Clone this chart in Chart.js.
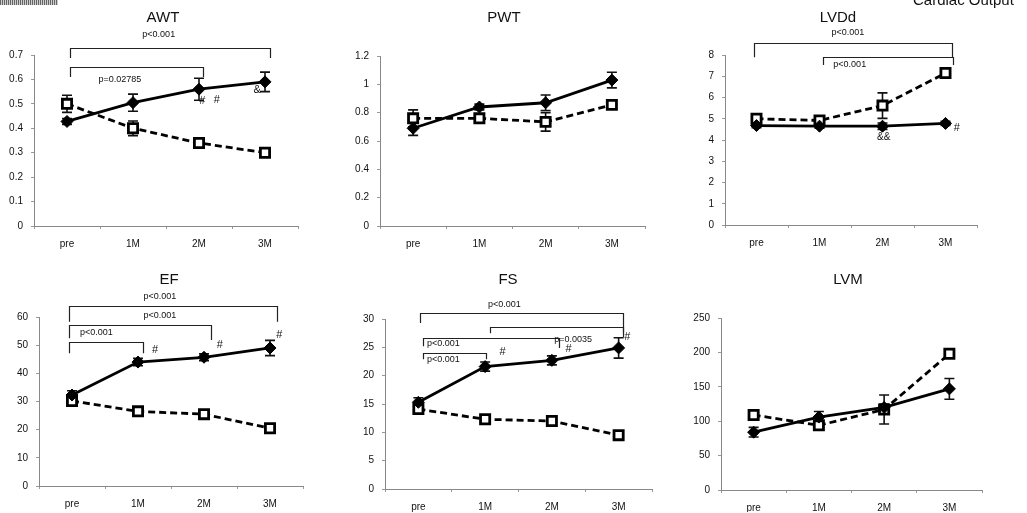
<!DOCTYPE html>
<html><head><meta charset="utf-8">
<script src="https://cdn.jsdelivr.net/npm/chart.js@4.4.1/dist/chart.umd.min.js"></script>
<style>
html,body{margin:0;padding:0;background:#fff;width:1027px;height:513px;overflow:hidden;position:relative;font-family:"Liberation Sans",Arial,sans-serif;}
canvas{position:absolute;}
.ttl{position:absolute;font-size:15px;color:#111;transform:translate(-50%,-50%);white-space:nowrap;line-height:1;}
#dith{position:absolute;left:0;top:0;width:58px;height:5px;background:repeating-linear-gradient(90deg,#666 0 1px,#ccc 1px 2px);}
#co{position:absolute;left:913px;top:-8px;font-size:15px;color:#111;white-space:nowrap;line-height:1;}
</style></head><body>
<div id="dith"></div>
<canvas id="c1"></canvas><canvas id="c2"></canvas><canvas id="c3"></canvas>
<canvas id="c4"></canvas><canvas id="c5"></canvas><canvas id="c6"></canvas>
<div class="ttl" style="left:163px;top:16px">AWT</div>
<div class="ttl" style="left:504px;top:16px">PWT</div>
<div class="ttl" style="left:838px;top:16px">LVDd</div>
<div class="ttl" style="left:169px;top:278px">EF</div>
<div class="ttl" style="left:508px;top:278px">FS</div>
<div class="ttl" style="left:848px;top:278px">LVM</div>
<div id="co">Cardiac Output</div>
<script>
// ---- data ----
const categories = ['pre', '1M', '2M', '3M'];

const awtSolid = [0.428, 0.505, 0.56, 0.59];
const awtSolidErr = [0.012, 0.035, 0.045, 0.04];
const awtDashed = [0.50, 0.40, 0.34, 0.30];
const awtDashedErr = [0.035, 0.03, 0.02, 0.012];
const awtTicks = [0, 0.1, 0.2, 0.3, 0.4, 0.5, 0.6, 0.7];

const pwtSolid = [0.69, 0.84, 0.87, 1.03];
const pwtSolidErr = [0.05, 0.02, 0.055, 0.055];
const pwtDashed = [0.76, 0.76, 0.735, 0.855];
const pwtDashedErr = [0.06, 0.03, 0.065, 0.02];
const pwtTicks = [0, 0.2, 0.4, 0.6, 0.8, 1, 1.2];

const lvddSolid = [4.68, 4.65, 4.65, 4.78];
const lvddSolidErr = [0.1, 0.1, 0.15, 0.1];
const lvddDashed = [5.0, 4.92, 5.62, 7.15];
const lvddDashedErr = [0.1, 0.1, 0.6, 0.15];
const lvddTicks = [0, 1, 2, 3, 4, 5, 6, 7, 8];

const efSolid = [32.3, 44, 45.7, 49];
const efSolidErr = [1.5, 1.3, 1.2, 2.7];
const efDashed = [30.2, 26.5, 25.5, 20.5];
const efDashedErr = [1, 0.8, 0.8, 0.8];
const efTicks = [0, 10, 20, 30, 40, 50, 60];

const fsSolid = [15.3, 21.6, 22.7, 24.9];
const fsSolidErr = [0.8, 0.8, 0.8, 1.8];
const fsDashed = [14.1, 12.3, 12.0, 9.5];
const fsDashedErr = [0.6, 0.4, 0.4, 0.5];
const fsTicks = [0, 5, 10, 15, 20, 25, 30];

const lvmSolid = [84, 106, 120, 147];
const lvmSolidErr = [7, 8, 5, 15];
const lvmDashed = [109, 94, 117, 198];
const lvmDashedErr = [4, 5, 21, 5];
const lvmTicks = [0, 50, 100, 150, 200, 250];

// significance brackets: [from category, to category, top value, left leg end, right leg end]
const awtBrackets = [[0.05, 3.08, 0.729, 0.688, 0.688], [0.05, 2.06, 0.651, 0.61, 0.61]];
const awtLabels = [['p<0.001', 1.39, 0.782, 'center', 9], ['p=0.02785', 0.80, 0.60, 'center', 9],
  ['#', 2.05, 0.51, 'center', 11], ['#', 2.27, 0.515, 'center', 11], ['&', 2.88, 0.557, 'center', 11]];
const lvddBrackets = [[-0.04, 3.10, 8.56, 7.9, 7.86], [1.05, 3.12, 7.9, 7.53, 7.53]];
const lvddLabels = [['p<0.001', 1.45, 9.04, 'center', 9], ['p<0.001', 1.48, 7.53, 'center', 9],
  ['&&', 2.02, 4.15, 'center', 10], ['#', 3.18, 4.55, 'center', 11]];
const efBrackets = [[-0.05, 3.1, 64, 58.3, 58.3], [-0.05, 2.11, 57.2, 52.5, 51.8], [-0.05, 1.08, 51, 47.1, 47.1]];
const efLabels = [['p<0.001', 1.33, 67.2, 'center', 9], ['p<0.001', 1.33, 60.4, 'center', 9], ['p<0.001', 0.37, 54.4, 'center', 9],
  ['#', 1.26, 48.3, 'center', 11], ['#', 2.24, 50, 'center', 11], ['#', 3.14, 53.6, 'center', 11]];
const fsBrackets = [[0.03, 3.06, 31.0, 29.3, 27.5], [1.08, 3.06, 28.65, 27.5, 26.8], [0.07, 2.10, 26.6, 25.2, 24.9], [0.07, 1.02, 23.95, 22.9, 22.9]];
const fsLabels = [['p<0.001', 1.29, 32.5, 'center', 9], ['p=0.0035', 2.32, 26.3, 'center', 9],
  ['p<0.001', 0.13, 25.6, 'left', 9], ['p<0.001', 0.13, 22.8, 'left', 9],
  ['#', 1.26, 24.2, 'center', 11], ['#', 2.25, 24.7, 'center', 11], ['#', 3.13, 26.8, 'center', 11]];

// ---- layout ----
const FONT = "'Liberation Sans', Arial, sans-serif";
const YW = 30, XH = 25;
const panels = [
  {id: 'c1', canvas: [0, 0, 340, 255], area: [34, 298, 55, 226], s: awtSolid, se: awtSolidErr, d: awtDashed, de: awtDashedErr, t: awtTicks, b: awtBrackets, l: awtLabels},
  {id: 'c2', canvas: [340, 0, 340, 255], area: [380, 645, 56, 226], s: pwtSolid, se: pwtSolidErr, d: pwtDashed, de: pwtDashedErr, t: pwtTicks, b: [], l: []},
  {id: 'c3', canvas: [680, 0, 347, 255], area: [725, 977, 55, 225], s: lvddSolid, se: lvddSolidErr, d: lvddDashed, de: lvddDashedErr, t: lvddTicks, b: lvddBrackets, l: lvddLabels},
  {id: 'c4', canvas: [0, 255, 340, 258], area: [39, 303, 317, 486], s: efSolid, se: efSolidErr, d: efDashed, de: efDashedErr, t: efTicks, b: efBrackets, l: efLabels},
  {id: 'c5', canvas: [340, 255, 340, 258], area: [385, 652, 319, 489], s: fsSolid, se: fsSolidErr, d: fsDashed, de: fsDashedErr, t: fsTicks, b: fsBrackets, l: fsLabels},
  {id: 'c6', canvas: [680, 255, 347, 258], area: [721, 982, 318, 490], s: lvmSolid, se: lvmSolidErr, d: lvmDashed, de: lvmDashedErr, t: lvmTicks, b: [], l: []}
];

function build(p) {
  const [cx, cy, cw, ch] = p.canvas;
  const [L, R, T, B] = p.area;
  const el = document.getElementById(p.id);
  el.width = cw; el.height = ch;
  el.style.left = cx + 'px'; el.style.top = cy + 'px';
  el.style.width = cw + 'px'; el.style.height = ch + 'px';
  const xh = Math.min(XH, cy + ch - B - 1);
  const pad = {left: L - cx - YW, right: cx + cw - R, top: T - cy, bottom: cy + ch - B - xh};
  const errs = [p.se, p.de];
  const errPlugin = {
    id: 'errbars',
    beforeDatasetsDraw(chart) {
      const ctx = chart.ctx, ys = chart.scales.y;
      ctx.save(); ctx.strokeStyle = '#111'; ctx.lineWidth = 1.6;
      chart.data.datasets.forEach((ds, di) => {
        const meta = chart.getDatasetMeta(di);
        meta.data.forEach((pt, i) => {
          const e = errs[di][i]; const v = ds.data[i];
          const yt = ys.getPixelForValue(v + e), yb = ys.getPixelForValue(v - e), x = pt.x;
          ctx.beginPath();
          ctx.moveTo(x, yt); ctx.lineTo(x, yb);
          ctx.moveTo(x - 5, yt); ctx.lineTo(x + 5, yt);
          ctx.moveTo(x - 5, yb); ctx.lineTo(x + 5, yb);
          ctx.stroke();
        });
      });
      ctx.restore();
    }
  };
  const annPlugin = {
    id: 'annot',
    afterDraw(chart) {
      const ctx = chart.ctx, xs = chart.scales.x, ys = chart.scales.y;
      const p0 = xs.getPixelForValue(0), p1 = xs.getPixelForValue(1);
      const px = i => p0 + (p1 - p0) * i;
      ctx.save();
      ctx.strokeStyle = '#222'; ctx.lineWidth = 1.2;
      p.b.forEach(([a, b, top, lb, rb]) => {
        const xa = Math.round(px(a)) + 0.5, xb = Math.round(px(b)) + 0.5, yt = Math.round(ys.getPixelForValue(top)) + 0.5;
        ctx.beginPath();
        ctx.moveTo(xa, ys.getPixelForValue(lb)); ctx.lineTo(xa, yt); ctx.lineTo(xb, yt); ctx.lineTo(xb, ys.getPixelForValue(rb));
        ctx.stroke();
      });
      ctx.fillStyle = '#111'; ctx.textBaseline = 'middle';
      p.l.forEach(([txt, i, v, al, sz]) => {
        ctx.font = sz + 'px ' + FONT; ctx.textAlign = al;
        ctx.fillText(txt, px(i), ys.getPixelForValue(v));
      });
      ctx.restore();
    }
  };
  new Chart(el, {
    type: 'line',
    data: {
      labels: categories,
      datasets: [
        {data: p.s, borderColor: '#000', borderWidth: 2.8, pointStyle: 'rectRot', pointRadius: 6, pointBackgroundColor: '#000', pointBorderColor: '#000', pointBorderWidth: 1, tension: 0, fill: false},
        {data: p.d, borderColor: '#000', borderWidth: 2.8, borderDash: [7, 4], pointStyle: 'rect', pointRadius: 6.5, pointBackgroundColor: '#fff', pointBorderColor: '#000', pointBorderWidth: 2.8, tension: 0, fill: false}
      ]
    },
    options: {
      responsive: false, animation: false, devicePixelRatio: 1,
      layout: {padding: pad},
      plugins: {legend: {display: false}, tooltip: {enabled: false}, title: {display: false}},
      scales: {
        x: {
          type: 'category', offset: true,
          grid: {display: true, drawOnChartArea: false, drawTicks: true, tickLength: 3, color: '#999', offset: true},
          border: {display: true, color: '#888', dash: [1, 2], width: 1},
          ticks: {font: {family: FONT, size: 10}, color: '#111', padding: 9, maxRotation: 0, autoSkip: false},
          afterFit(s) { s.height = xh; }
        },
        y: {
          min: 0, max: p.t[p.t.length - 1],
          afterBuildTicks(s) { s.ticks = p.t.map(v => ({value: v})); },
          grid: {display: true, drawOnChartArea: false, drawTicks: true, tickLength: 3, color: '#999'},
          border: {display: true, color: '#888', dash: [1, 2], width: 1},
          ticks: {font: {family: FONT, size: 10}, color: '#111', padding: 8, callback: v => String(+Number(v).toFixed(3))},
          afterFit(s) { s.width = YW; }
        }
      }
    },
    plugins: [errPlugin, annPlugin]
  });
}
panels.forEach(build);
</script>
</body></html>
